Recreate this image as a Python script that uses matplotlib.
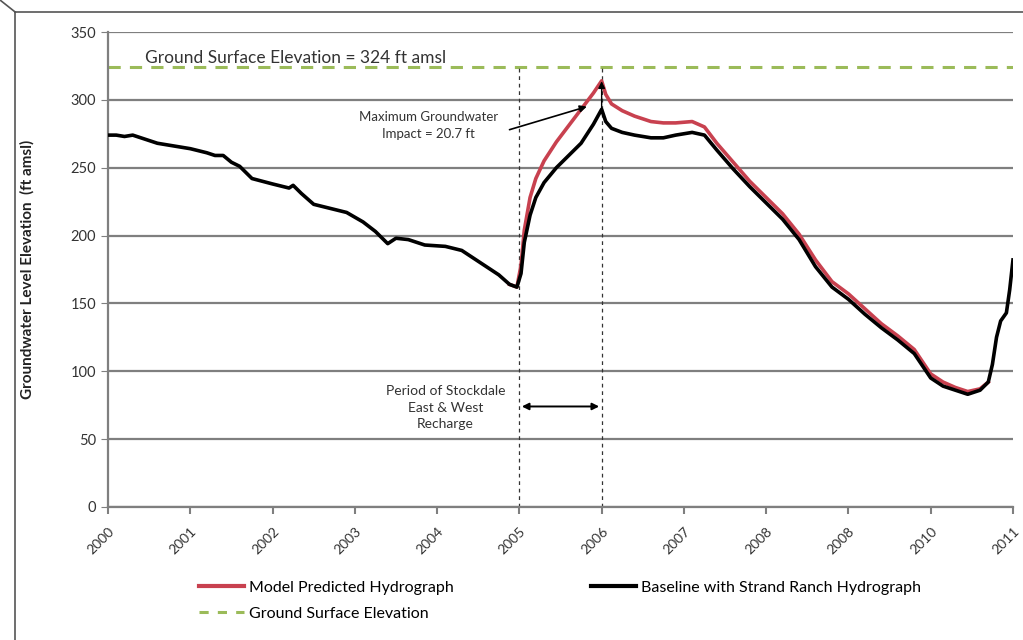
import matplotlib
matplotlib.use('Agg')
import matplotlib.pyplot as plt
from matplotlib.lines import Line2D

plt.rcParams['font.family'] = ['Lato', 'DejaVu Sans']

# baseline (black) hydrograph
base_x = [2000.0, 2000.1, 2000.2, 2000.3, 2000.4, 2000.6, 2000.8, 2001.0, 2001.2, 2001.3,
          2001.4, 2001.5, 2001.6, 2001.75, 2002.0, 2002.2, 2002.25, 2002.35, 2002.5, 2002.7,
          2002.9, 2003.1, 2003.25, 2003.4, 2003.5, 2003.65, 2003.85, 2004.1, 2004.3, 2004.55,
          2004.75, 2004.88, 2004.97, 2005.02, 2005.06, 2005.13, 2005.2, 2005.3, 2005.45, 2005.6,
          2005.75, 2005.9, 2006.0, 2006.05, 2006.12, 2006.25, 2006.4, 2006.6, 2006.75, 2006.9,
          2007.1, 2007.25, 2007.4, 2007.6, 2007.8, 2008.0, 2008.2, 2008.4, 2008.6, 2008.8,
          2009.0, 2009.2, 2009.4, 2009.6, 2009.8, 2010.0, 2010.15, 2010.3, 2010.45, 2010.6,
          2010.7, 2010.75, 2010.8, 2010.85, 2010.92, 2010.96, 2011.0]
base_y = [274, 274, 273, 274, 272, 268, 266, 264, 261, 259,
          259, 254, 251, 242, 238, 235, 237, 231, 223, 220,
          217, 210, 203, 194, 198, 197, 193, 192, 189, 179,
          171, 164, 162, 172, 195, 215, 228, 239, 250, 259,
          268, 282, 293, 284, 279, 276, 274, 272, 272, 274,
          276, 274, 263, 249, 236, 224, 212, 197, 177, 162,
          153, 142, 132, 123, 113, 95, 89, 86, 83, 86,
          92, 105, 125, 137, 143, 160, 182]

# model predicted (red) hydrograph, only differs after 2005
model_x = [2004.88, 2004.97, 2005.02, 2005.06, 2005.13, 2005.2, 2005.3, 2005.45, 2005.6, 2005.75,
           2005.9, 2006.0, 2006.05, 2006.12, 2006.25, 2006.4, 2006.6, 2006.75, 2006.9, 2007.1,
           2007.25, 2007.4, 2007.6, 2007.8, 2008.0, 2008.2, 2008.4, 2008.6, 2008.8, 2009.0,
           2009.2, 2009.4, 2009.6, 2009.8, 2010.0, 2010.15, 2010.3, 2010.45, 2010.6, 2010.7]
model_y = [164, 162, 178, 204, 228, 242, 255, 269, 281, 293,
           305, 314, 304, 297, 292, 288, 284, 283, 283, 284,
           280, 268, 254, 240, 228, 216, 201, 182, 166, 157,
           146, 135, 126, 116, 98, 92, 88, 85, 87, 92]

ground_elev = 324
recharge_start, recharge_end = 2005, 2006
max_impact = 20.7

year_ticks = list(range(2000, 2012))
year_labels = ['2000', '2001', '2002', '2003', '2004', '2005', '2006', '2007',
               '2008', '2008', '2010', '2011']

fig = plt.figure(figsize=(10.23, 6.4), dpi=100)
ax = fig.add_axes([0.1056, 0.208, 0.8846, 0.742])

ax.set_xlim(2000, 2011)
ax.set_ylim(0, 350)
ax.set_yticks(range(0, 351, 50))
ax.yaxis.grid(True, color='#7f7f7f', linewidth=1.6)
ax.set_axisbelow(True)
for s in ['top', 'right']:
    ax.spines[s].set_visible(False)
for s in ['left', 'bottom']:
    ax.spines[s].set_color('#7f7f7f')
    ax.spines[s].set_linewidth(1.6)
ax.set_xticks(year_ticks)
ax.set_xticklabels(year_labels, rotation=45, ha='right', rotation_mode='anchor',
                   fontsize=10, color='#333333')
ax.tick_params(axis='y', labelsize=10.5, colors='#333333', length=5, color='#7f7f7f')
ax.tick_params(axis='x', length=5, color='#7f7f7f', width=1.5, pad=8)
ax.set_ylabel('Groundwater Level Elevation  (ft amsl)', fontsize=11, fontweight='bold',
              color='#222222', labelpad=26)

ax.axhline(ground_elev, color='#9bbb59', linestyle=(0, (4, 3)), linewidth=2.2, zorder=2)
ax.vlines([recharge_start, recharge_end], 0, ground_elev, colors='#333333',
          linestyles=(0, (3, 3)), linewidth=0.9, zorder=2)

ax.plot(model_x, model_y, color='#c8414f', linewidth=2.6, zorder=3)
ax.plot(base_x, base_y, color='black', linewidth=2.6, zorder=4)

ax.text(2000.45, 331, 'Ground Surface Elevation = 324 ft amsl', fontsize=12.5,
        color='#333333', va='center')

ax.text(2003.9, 281, 'Maximum Groundwater\nImpact = 20.7 ft', fontsize=9.5,
        ha='center', va='center', color='#333333', linespacing=1.5)
ax.annotate('', xy=(2005.82, 295), xytext=(2004.88, 278),
            arrowprops=dict(arrowstyle='-|>', color='black', lw=1.2, shrinkA=0, shrinkB=0))
ax.annotate('', xy=(recharge_end, 293 + max_impact), xytext=(recharge_end, 293),
            arrowprops=dict(arrowstyle='-|>', color='black', lw=1.0, shrinkA=0, shrinkB=0))

ax.text(2004.1, 73, 'Period of Stockdale\nEast & West\nRecharge', fontsize=10,
        ha='center', va='center', color='#333333', linespacing=1.45)
ax.annotate('', xy=(recharge_start + 0.03, 74), xytext=(recharge_end - 0.03, 74),
            arrowprops=dict(arrowstyle='<|-|>', color='black', lw=1.4, shrinkA=0, shrinkB=0))

handles = [Line2D([], [], color='#c8414f', linewidth=3),
           Line2D([], [], color='#9bbb59', linestyle=(0, (3, 3)), linewidth=2.2),
           Line2D([], [], color='black', linewidth=3)]
labels = ['Model Predicted Hydrograph', 'Ground Surface Elevation',
          'Baseline with Strand Ranch Hydrograph']
fig.legend(handles, labels, ncol=2, loc='upper left', bbox_to_anchor=(0.195, 0.093),
           frameon=False, fontsize=11.5, handlelength=2.8, handletextpad=0.3,
           columnspacing=8.6, labelspacing=0.75, borderaxespad=0, borderpad=0)

# scanned frame border
fig.add_artist(Line2D([0.015, 1.0], [0.981, 0.981], color='#555555', linewidth=1.2))
fig.add_artist(Line2D([0.015, 0.015], [0.0, 0.981], color='#555555', linewidth=1.2))
fig.add_artist(Line2D([0.0, 0.015], [1.0, 0.981], color='#555555', linewidth=1.2))

fig.savefig('out.png', dpi=100)
